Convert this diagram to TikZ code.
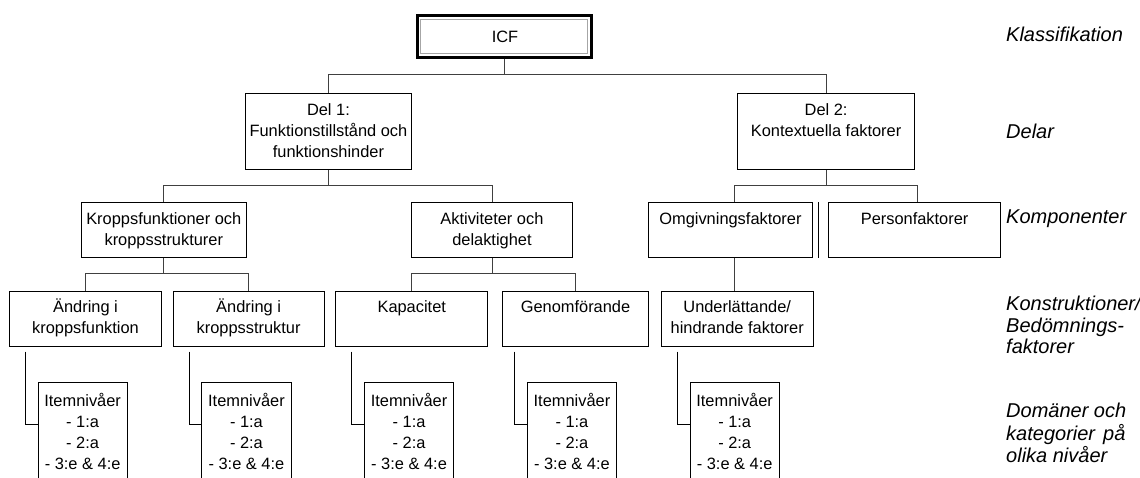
\documentclass[tikz,border=0pt]{standalone}
\usepackage{fontspec}
\setmainfont{Liberation Sans}
\usetikzlibrary{calc}
\begin{document}
\begin{tikzpicture}[x=1pt,y=-1pt,
  box/.style={draw=black, line width=0.9pt, inner sep=0pt, anchor=north west},
  openbox/.style={inner sep=0pt, outer sep=0pt, anchor=north west, minimum width=89.3pt, minimum height=98pt},
  boxline/.style={draw=black, line width=0.9pt},
  txt/.style={inner sep=0pt, anchor=north, align=center, font=\fontsize{16.4}{21}\selectfont},
  lbl/.style={inner sep=0pt, anchor=north west, align=left, font=\fontsize{20}{21.3}\selectfont\itshape},
  conn/.style={draw=black!75, line width=0.9pt}]
\useasboundingbox (0,0) rectangle (1140,478);

% ICF
\node[draw=black, line width=3.5pt, minimum width=174pt, minimum height=42pt, inner sep=0pt] (icf) at (504.3,36.5) {};
\node[draw=black!35, line width=0.9pt, minimum width=167pt, minimum height=34.8pt, inner sep=0pt] (icfin) at (504.2,36.4) {};
\node[txt, anchor=base] (icft) at (505,42.4) {ICF};

% level 1
\node[box, minimum width=166pt, minimum height=76pt] (del1) at (245,93.3) {};
\node[box, minimum width=176.7pt, minimum height=76pt] (del2) at (737.3,93.3) {};
\node[txt] (del1t) at ($(del1.north)+(0,7.6)$) {\strut Del 1:\\Funktionstillstånd och\\funktionshinder};
\node[txt] (del2t) at ($(del2.north)+(0,7.6)$) {\strut Del 2:\\Kontextuella faktorer};

% level 2
\node[box, minimum width=164.7pt, minimum height=54.4pt] (kropp) at (81,202.3) {};
\node[box, minimum width=161.6pt, minimum height=54.4pt] (akt) at (410.7,202.3) {};
\node[box, minimum width=164.6pt, minimum height=54.4pt] (omg) at (647.7,202.3) {};
\node[box, minimum width=171.7pt, minimum height=54.4pt] (pers) at (828.3,202.3) {};
\node[txt] (kroppt) at ($(kropp.north)+(0,7.3)$) {\strut Kroppsfunktioner och\\kroppsstrukturer};
\node[txt] (aktt) at ($(akt.north)+(0,7.3)$) {\strut Aktiviteter och\\delaktighet};
\node[txt] (omgt) at ($(omg.north)+(0,7.3)$) {\strut Omgivningsfaktorer};
\node[txt] (perst) at ($(pers.north)+(0,7.3)$) {\strut Personfaktorer};

% level 3
\node[box, minimum width=152pt, minimum height=55pt] (andr1) at (9.1,290.7) {};
\node[box, minimum width=150.9pt, minimum height=55pt] (andr2) at (172.7,290.7) {};
\node[box, minimum width=152pt, minimum height=55pt] (kap) at (335.3,290.7) {};
\node[box, minimum width=146.5pt, minimum height=55pt] (gen) at (501.8,290.7) {};
\node[box, minimum width=151.5pt, minimum height=55pt] (und) at (661,290.7) {};
\node[txt] (andr1t) at ($(andr1.north)+(0,6.9)$) {\strut Ändring i\\kroppsfunktion};
\node[txt] (andr2t) at ($(andr2.north)+(0,6.9)$) {\strut Ändring i\\kroppsstruktur};
\node[txt] (kapt) at ($(kap.north)+(0,6.9)$) {\strut Kapacitet};
\node[txt] (gent) at ($(gen.north)+(0,6.9)$) {\strut Genomförande};
\node[txt] (undt) at ($(und.north)+(0,6.9)$) {\strut Underlättande/\\hindrande faktorer};

% level 4 (open boxes)
\foreach \n/\x in {item1/38, item2/201.8, item3/364.4, item4/527.3, item5/690}{
  \node[openbox] (\n) at (\x,382.3) {};
  \draw[boxline] (\n.south west) -- (\n.north west) -- (\n.north east) -- (\n.south east);
  \node[txt] (\n t) at ($(\n.north)+(0,8.8)$) {\strut Itemnivåer\\- 1:a\hspace*{4pt}\\- 2:a\hspace*{4pt}\\- 3:e \& 4:e};
}

% connectors
\draw[conn] (icf.south) -- ++(0,15.3) -| (del1.north);
\draw[conn] (icf.south) ++(0,15.3) -| (del2.north);
\draw[conn] (del1.south) -- ++(0,15.3) -| (kropp.north);
\draw[conn] (del1.south) ++(0,15.3) -| (akt.north);
\draw[conn] (del2.south) -- ++(0,15.3) -| ([xshift=4pt]omg.north);
\draw[conn] (del2.south) ++(0,15.3) -| ([xshift=3pt]pers.north);
\draw[boxline] ([xshift=5pt]omg.north east) -- ([xshift=5pt]omg.south east);
\draw[conn] (kropp.south) -- ++(0,16.2) -| (andr1.north);
\draw[conn] (kropp.south) ++(0,16.2) -| (andr2.north);
\draw[conn] (akt.south) -- ++(0,16.2) -| (kap.north);
\draw[conn] (akt.south) ++(0,16.2) -| (gen.north);
\draw[conn] ([xshift=4pt]omg.south) -- ([xshift=4pt]omg.south |- und.north);
\foreach \p/\n in {andr1/item1, andr2/item2, kap/item3, gen/item4, und/item5}{
  \draw[boxline] ($(\n.north west |- \p.south)+(-12.7,5)$) |- ($(\n.north west)+(0,42)$);
}

% level labels
\node[lbl] (lab1) at (1006,26.7) {\strut Klassifikation};
\node[lbl] (lab2) at (1006,123.5) {\strut Delar};
\node[lbl] (lab3) at (1006,208.5) {\strut Komponenter};
\node[lbl] (lab4) at (1006,295.6) {\strut Konstruktioner/\\Bedömnings-\\faktorer};
\node[lbl] (lab5) at (1006,402.3) {\strut Domäner och\\kategorier\hspace{8pt}på\\olika nivåer};
\end{tikzpicture}
\end{document}
